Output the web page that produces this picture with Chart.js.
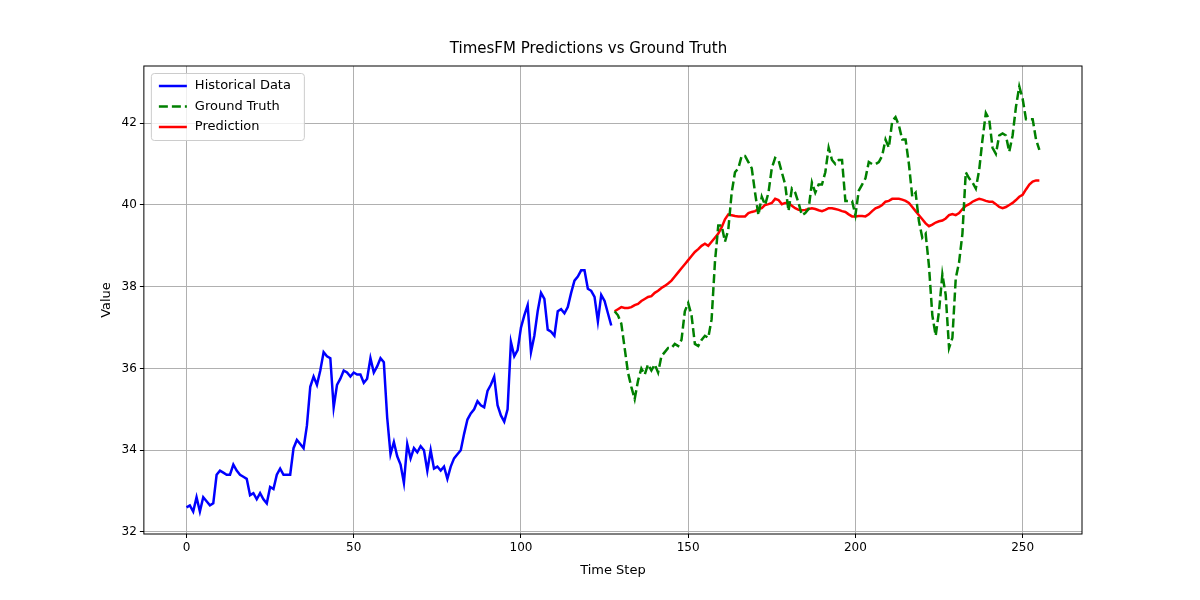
<!DOCTYPE html>
<html>
<head>
<meta charset="utf-8">
<script src="https://cdn.jsdelivr.net/npm/chart.js@4"></script>
<style>
  body { margin: 0; background: #fff; }
</style>
</head>
<body>
<canvas id="chart" width="1200" height="600"></canvas>
<script>
const historical = [32.6,32.65,32.5,32.85,32.5,32.85,32.75,32.65,32.7,33.4,33.5,33.45,33.4,33.4,33.65,33.5,33.4,33.35,33.3,32.9,
  32.95,32.8,32.95,32.8,32.7,33.1,33.05,33.4,33.55,33.4,33.4,33.4,34.05,34.25,34.15,34.05,34.6,35.55,35.8,35.6,
  35.95,36.4,36.3,36.25,35.05,35.6,35.75,35.95,35.9,35.8,35.9,35.85,35.85,35.65,35.75,36.25,35.9,36.05,36.25,36.15,
  34.8,33.9,34.2,33.85,33.65,33.2,34.15,33.8,34.05,33.95,34.1,34.0,33.5,34.0,33.55,33.6,33.5,33.6,33.3,33.6,
  33.8,33.9,34.0,34.4,34.75,34.9,35.0,35.2,35.1,35.05,35.45,35.6,35.8,35.1,34.85,34.7,35.0,36.65,36.3,36.45,
  37.0,37.3,37.55,36.4,36.8,37.4,37.85,37.7,36.95,36.9,36.8,37.4,37.45,37.35,37.5,37.85,38.15,38.25,38.4,38.4,
  37.95,37.9,37.75,37.15,37.8,37.65,37.35,37.05];
const groundTruth = [37.4,37.3,37.1,36.5,35.9,35.55,35.25,35.7,36.0,35.85,36.1,35.95,36.1,35.9,36.3,36.4,36.5,36.5,36.6,36.55,
  36.7,37.4,37.6,37.3,36.6,36.55,36.7,36.8,36.75,37.2,38.6,39.5,39.5,39.1,39.4,40.3,40.8,40.9,41.2,41.2,
  41.05,40.9,40.3,39.75,40.2,40.0,40.3,40.9,41.15,41.1,40.8,40.5,39.85,40.4,40.3,40.05,39.75,39.8,39.9,40.55,
  40.3,40.5,40.5,40.8,41.4,41.1,41.0,41.1,41.1,40.1,40.1,40.1,39.75,40.35,40.5,40.65,41.05,41.0,41.0,41.05,
  41.2,41.6,41.4,42.05,42.15,41.95,41.6,41.6,41.0,40.2,40.3,39.6,39.2,39.3,38.5,37.3,36.8,37.4,38.3,37.8,
  36.5,36.75,38.2,38.6,39.3,40.8,40.65,40.55,40.4,40.85,41.6,42.25,42.1,41.4,41.25,41.7,41.75,41.7,41.3,41.7,
  42.4,42.9,42.6,42.1,42.1,42.1,41.6,41.35];
const prediction = [37.4,37.45,37.5,37.48,37.48,37.5,37.55,37.58,37.65,37.7,37.75,37.77,37.85,37.9,37.97,38.02,38.08,38.15,38.25,38.35,
  38.45,38.55,38.65,38.75,38.85,38.92,39.0,39.05,39.0,39.1,39.2,39.3,39.45,39.65,39.77,39.75,39.73,39.72,39.72,39.72,
  39.8,39.83,39.85,39.9,39.92,40.0,40.02,40.05,40.15,40.12,40.02,40.05,40.05,39.98,39.92,39.88,39.87,39.88,39.9,39.92,
  39.9,39.87,39.85,39.88,39.92,39.92,39.9,39.88,39.85,39.83,39.77,39.72,39.72,39.73,39.73,39.72,39.77,39.85,39.92,39.95,
  40.0,40.08,40.1,40.15,40.15,40.15,40.13,40.1,40.05,39.95,39.85,39.75,39.65,39.55,39.48,39.52,39.57,39.6,39.62,39.67,
  39.75,39.78,39.75,39.8,39.9,39.98,40.02,40.08,40.12,40.15,40.13,40.1,40.08,40.08,40.02,39.95,39.92,39.95,40.0,40.05,
  40.12,40.2,40.25,40.38,40.5,40.57,40.6,40.6];
const predStart = historical.length;
const xTicks = [0, 50, 100, 150, 200, 250];
const yTicks = [32, 34, 36, 38, 40, 42];

const toPoints = (arr, offset) => arr.map((v, i) => ({ x: i + offset, y: v }));

// legend drawn inside the plot, matplotlib style
const insideLegend = {
  id: 'insideLegend',
  afterDraw(chart) {
    const ctx = chart.ctx;
    const a = chart.chartArea;
    const x0 = a.left + 7, y0 = a.top + 7, w = 153, h = 67;
    ctx.save();
    ctx.fillStyle = 'rgba(255,255,255,0.8)';
    ctx.strokeStyle = '#cccccc';
    ctx.lineWidth = 1;
    ctx.beginPath();
    ctx.roundRect(x0 + 0.5, y0 + 0.5, w, h, 3);
    ctx.fill();
    ctx.stroke();
    ctx.font = '13px "DejaVu Sans"';
    ctx.textBaseline = 'middle';
    chart.data.datasets.forEach((ds, i) => {
      const ly = y0 + 13 + i * 20.5;
      ctx.strokeStyle = ds.borderColor;
      ctx.lineWidth = 2.5;
      ctx.setLineDash(ds.borderDash || []);
      ctx.beginPath();
      ctx.moveTo(x0 + 8, ly);
      ctx.lineTo(x0 + 36, ly);
      ctx.stroke();
      ctx.setLineDash([]);
      ctx.fillStyle = '#000';
      ctx.fillText(ds.label, x0 + 44, ly);
    });
    ctx.restore();
  }
};

const frameBox = {
  id: 'frameBox',
  afterDatasetsDraw(chart) {
    const a = chart.chartArea, ctx = chart.ctx;
    ctx.save();
    ctx.strokeStyle = '#000';
    ctx.lineWidth = 1;
    ctx.strokeRect(a.left, a.top, a.right - a.left, a.bottom - a.top);
    ctx.restore();
  }
};

new Chart(document.getElementById('chart'), {
  type: 'line',
  data: {
    datasets: [{
      label: 'Historical Data',
      data: toPoints(historical, 0),
      borderColor: '#0000ff',
      borderWidth: 2.5,
      pointRadius: 0,
      tension: 0
    }, {
      label: 'Ground Truth',
      data: toPoints(groundTruth, predStart),
      borderColor: '#008000',
      borderWidth: 2.5,
      borderDash: [9, 4],
      pointRadius: 0,
      tension: 0
    }, {
      label: 'Prediction',
      data: toPoints(prediction, predStart),
      borderColor: '#ff0000',
      borderWidth: 2.5,
      pointRadius: 0,
      tension: 0
    }]
  },
  options: {
    responsive: false,
    animation: false,
    devicePixelRatio: 1,
    layout: { padding: { left: 95, right: 118, top: 10, bottom: 18 } },
    plugins: {
      legend: { display: false },
      tooltip: { enabled: false },
      title: {
        display: true,
        text: 'TimesFM Predictions vs Ground Truth',
        color: '#000',
        font: { family: 'DejaVu Sans', size: 15, weight: 'normal' },
        padding: { top: 30, bottom: 8 }
      }
    },
    scales: {
      x: {
        type: 'linear',
        min: -12.75,
        max: 267.75,
        afterBuildTicks: s => { s.ticks = xTicks.map(v => ({ value: v })); },
        grid: { color: '#b0b0b0', lineWidth: 1, drawTicks: true, tickLength: 4, tickColor: '#000' },
        border: { display: false },
        ticks: { color: '#000', font: { family: 'DejaVu Sans', size: 12 }, maxRotation: 0 },
        title: { display: true, text: 'Time Step', color: '#000', font: { family: 'DejaVu Sans', size: 13 } }
      },
      y: {
        min: 31.95,
        max: 43.4,
        afterBuildTicks: s => { s.ticks = yTicks.map(v => ({ value: v })); },
        grid: { color: '#b0b0b0', lineWidth: 1, drawTicks: true, tickLength: 4, tickColor: '#000' },
        border: { display: false },
        ticks: { color: '#000', font: { family: 'DejaVu Sans', size: 12 } },
        title: { display: true, text: 'Value', color: '#000', font: { family: 'DejaVu Sans', size: 13 } }
      }
    }
  },
  plugins: [frameBox, insideLegend]
});
</script>
</body>
</html>
